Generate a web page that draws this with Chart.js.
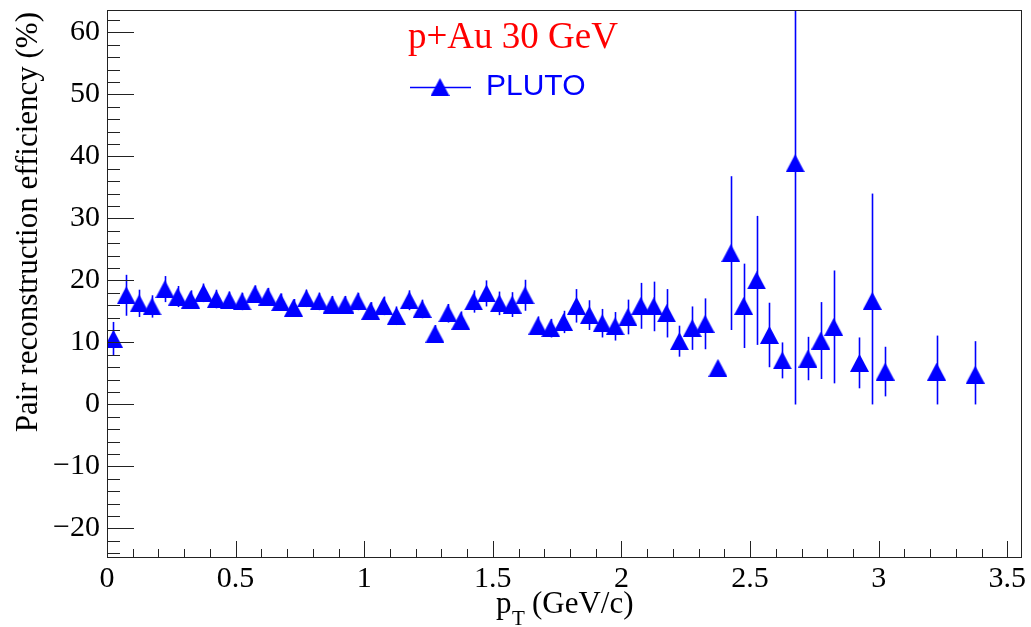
<!DOCTYPE html>
<html>
<head>
<meta charset="utf-8">
<script src="https://cdn.jsdelivr.net/npm/chart.js@4"></script>
<style>
  html, body { margin: 0; padding: 0; background: #fff; }
  #myChart { display: block; }
</style>
</head>
<body>
<canvas id="myChart" width="1031" height="627"></canvas>
<script>
// * pT bin centres (GeV/c)
const ptBins = [
  0.025, 0.075, 0.125, 0.175, 0.225, 0.275, 0.325, 0.375, 0.425, 0.475,
  0.525, 0.575, 0.625, 0.675, 0.725, 0.775, 0.825, 0.875, 0.925, 0.975,
  1.025, 1.075, 1.125, 1.175, 1.225, 1.275, 1.325, 1.375, 1.425, 1.475,
  1.525, 1.575, 1.625, 1.675, 1.725, 1.775, 1.825, 1.875, 1.925, 1.975,
  2.025, 2.075, 2.125, 2.175, 2.225, 2.275, 2.325, 2.375, 2.425, 2.475,
  2.525, 2.575, 2.625, 2.675, 2.725, 2.775, 2.825, 2.925, 2.975, 3.025,
  3.225, 3.375,
];
// * efficiency (%)
const effValues = [
  10.6, 17.6, 16.3, 15.8, 18.6, 17.4, 16.9, 18.0, 17.0, 16.8,
  16.6, 17.8, 17.4, 16.5, 15.6, 17.1, 16.6, 16.1, 16.1, 16.6,
  15.1, 15.9, 14.3, 16.8, 15.4, 11.4, 14.7, 13.5, 16.6, 17.9,
  16.3, 16.1, 17.6, 12.7, 12.3, 13.3, 15.9, 14.4, 13.1, 12.6,
  14.1, 15.9, 15.8, 14.7, 10.2, 12.3, 13.0, 5.9, 24.4, 15.9,
  20.0, 11.2, 7.1, 38.9, 7.4, 10.3, 12.5, 6.7, 16.7, 5.3,
  5.3, 4.8,
];
// * statistical errors (%)
const effErrors = [
  2.7, 3.3, 2.2, 1.8, 2.1, 1.7, 1.5, 1.5, 1.5, 1.4,
  1.4, 1.4, 1.4, 1.4, 1.4, 1.4, 1.4, 1.4, 1.4, 1.4,
  1.4, 1.5, 1.5, 1.6, 1.5, 1.4, 1.5, 1.5, 1.8, 2.1,
  1.9, 2.0, 2.5, 1.5, 1.5, 1.8, 2.7, 2.4, 2.3, 2.3,
  2.8, 3.7, 4.0, 3.9, 2.5, 3.5, 4.1, 0.5, 12.4, 6.8,
  10.4, 5.2, 2.9, 39.0, 3.5, 6.2, 9.1, 4.1, 17.3, 4.0,
  5.8, 5.4,
];
const xTicks = [0, 0.5, 1, 1.5, 2, 2.5, 3, 3.5];
const yTicks = [-20, -10, 0, 10, 20, 30, 40, 50, 60];
const titleText = "p+Au 30 GeV";
const legendText = "PLUTO";
const yTitle = "Pair reconstruction efficiency (%)";

const BLUE = "#0000ff";
const SERIF = "'Liberation Serif', 'Times New Roman', serif";
const SANS = "'Liberation Sans', Arial, sans-serif";

// * ROOT style full triangle, centred on its box
function makeTriangle(w, h) {
  const c = document.createElement("canvas");
  c.width = w;
  c.height = h;
  const g = c.getContext("2d");
  g.fillStyle = BLUE;
  g.beginPath();
  g.moveTo(w / 2, 0);
  g.lineTo(w, h);
  g.lineTo(0, h);
  g.closePath();
  g.fill();
  return c;
}
const triangle = makeTriangle(19, 18);

const rootStyle = {
  id: "rootStyle",
  beforeDatasetsDraw(chart) {
    const { ctx, chartArea: a, scales: { x, y } } = chart;
    ctx.save();
    ctx.beginPath();
    ctx.rect(a.left, a.top, a.right - a.left, a.bottom - a.top);
    ctx.clip();
    ctx.strokeStyle = BLUE;
    ctx.lineWidth = 1.6;
    ptBins.forEach((pt, i) => {
      const px = Math.round(x.getPixelForValue(pt)) + 0.5;
      const lo = Math.max(0, effValues[i] - effErrors[i]);
      ctx.beginPath();
      ctx.moveTo(px, y.getPixelForValue(effValues[i] + effErrors[i]));
      ctx.lineTo(px, y.getPixelForValue(lo));
      ctx.stroke();
    });
    ctx.restore();
  },
  afterDraw(chart) {
    const { ctx, chartArea: a, scales: { x, y } } = chart;
    ctx.save();
    // frame
    ctx.strokeStyle = "#222";
    ctx.lineWidth = 1;
    ctx.strokeRect(a.left + 0.5, a.top + 0.5, a.right - a.left, a.bottom - a.top);

    // y ticks (inside)
    ctx.beginPath();
    for (let v = -24; v <= 63; v += 2) {
      const py = Math.round(y.getPixelForValue(v)) + 0.5;
      const len = v % 10 === 0 ? 27 : 13;
      ctx.moveTo(a.left, py);
      ctx.lineTo(a.left + len, py);
    }
    // x ticks (inside)
    for (let k = 1; k <= 35; k++) {
      const px = Math.round(x.getPixelForValue(k / 10)) + 0.5;
      const len = k % 5 === 0 ? 16 : 8;
      ctx.moveTo(px, a.bottom);
      ctx.lineTo(px, a.bottom - len);
    }
    ctx.stroke();

    // axis titles
    ctx.fillStyle = "#000";
    ctx.font = "31px " + SERIF;
    ctx.textBaseline = "alphabetic";
    ctx.save();
    ctx.translate(37, a.top + 2);
    ctx.rotate(-Math.PI / 2);
    ctx.textAlign = "right";
    ctx.fillText(yTitle, 0, 0);
    ctx.restore();

    ctx.textAlign = "left";
    ctx.fillText("p", 496, 613);
    ctx.font = "21px " + SERIF;
    ctx.fillText("T", 512, 625);
    ctx.font = "31px " + SERIF;
    ctx.fillText("(GeV/c)", 532, 613);

    // title
    ctx.fillStyle = "#ff0000";
    ctx.font = "37px " + SERIF;
    ctx.fillText(titleText, 408, 48);

    // legend
    ctx.strokeStyle = BLUE;
    ctx.lineWidth = 1.5;
    ctx.beginPath();
    ctx.moveTo(410, 87.5);
    ctx.lineTo(471, 87.5);
    ctx.stroke();
    ctx.drawImage(triangle, 440 - triangle.width / 2, 87 - triangle.height / 2);
    ctx.fillStyle = BLUE;
    ctx.font = "30px " + SANS;
    ctx.fillText(legendText, 486, 95);
    ctx.restore();
  },
};

const config = {
  type: "scatter",
  data: {
    datasets: [
      {
        data: ptBins.map((pt, i) => ({ x: pt, y: effValues[i] })),
        pointStyle: triangle,
        pointRadius: 9,
        backgroundColor: BLUE,
        borderColor: BLUE,
      },
    ],
  },
  options: {
    responsive: false,
    animation: false,
    devicePixelRatio: 1,
    layout: { padding: { top: 6, right: 9, left: 0, bottom: 0 } },
    plugins: { legend: false, tooltip: { enabled: false } },
    scales: {
      x: {
        type: "linear",
        min: 0,
        max: 3.553,
        afterBuildTicks: (s) => { s.ticks = xTicks.map((v) => ({ value: v })); },
        ticks: {
          font: { family: SERIF, size: 30 },
          color: "#000",
          padding: 4,
          maxRotation: 0,
          autoSkip: false,
          callback: (v) => String(v),
        },
        grid: { display: false, drawTicks: false },
        border: { display: false },
        afterFit: (s) => { s.height = 70; s.paddingLeft = 0; s.paddingRight = 0; },
      },
      y: {
        type: "linear",
        min: -24.6,
        max: 63.6,
        afterBuildTicks: (s) => { s.ticks = yTicks.map((v) => ({ value: v })); },
        ticks: {
          font: { family: SERIF, size: 30 },
          color: "#000",
          padding: 7,
          callback: (v) => String(v).replace("-", "\u2212"),
        },
        grid: { display: false, drawTicks: false },
        border: { display: false },
        afterFit: (s) => { s.width = 107; s.paddingTop = 0; s.paddingBottom = 0; },
      },
    },
  },
  plugins: [rootStyle],
};

const chart = new Chart(document.getElementById("myChart").getContext("2d"), config);
</script>
</body>
</html>
